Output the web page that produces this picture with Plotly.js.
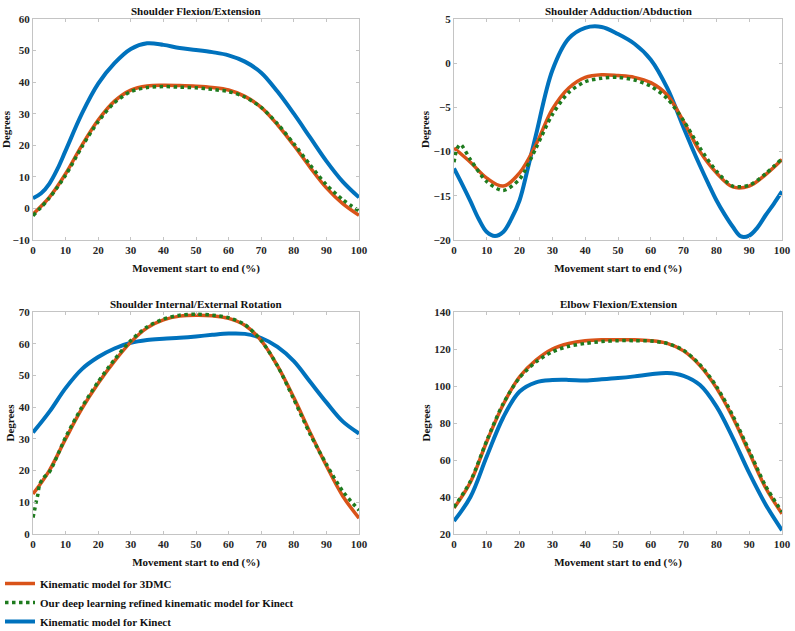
<!DOCTYPE html>
<html>
<head>
<meta charset="utf-8">
<script src="https://cdn.plot.ly/plotly-3.0.1.min.js"></script>
<style>html,body{margin:0;padding:0;background:#fff;}#chart{width:795px;height:631px;}</style>
</head>
<body>
<div id="chart"></div>
<script>
// ---- data ----
const seriesNames = ["Kinematic model for 3DMC", "Our deep learning refined kinematic model for Kinect", "Kinematic model for Kinect"];
const panelTitles = ["Shoulder Flexion/Extension", "Shoulder Adduction/Abduction", "Shoulder Internal/External Rotation", "Elbow Flexion/Extension"];
const x5 = [0,5,10,15,20,25,30,35,40,45,50,55,60,65,70,75,80,85,90,95,100];

// Panel 1: Shoulder Flexion/Extension
const p1Orange = [-1.8,3.5,11,20,28,34,37.5,38.8,39,38.9,38.7,38.3,37.5,35.5,32,26.5,20,13,6.5,1.5,-2.2];
const p1Green  = [-2.3,3.3,10.5,19.5,27.5,33.5,37,38.3,38.6,38.4,38.2,37.7,37,35.3,32,26.8,20.5,13.8,7.5,2.8,-0.8];
const p1BlueX  = [0,2.5,5,7.5,10,15,20,25,30,35,40,45,50,55,60,65,70,75,80,85,90,95,100];
const p1Blue   = [3.2,4.8,7.8,12.5,18.3,30,39.5,46,50.5,52.3,51.8,50.8,50.2,49.5,48.5,46.5,43,37,30,22.5,15,8.5,3.5];

// Panel 2: Shoulder Adduction/Abduction
const p2Orange = [-9.6,-11.2,-13,-13.9,-12.4,-9.2,-5.2,-2.8,-1.6,-1.3,-1.4,-1.6,-2.2,-3.6,-6.6,-10,-12.4,-14,-13.9,-12.6,-10.9];
const p2GreenX = [0,1,2,5,10,15,20,25,30,35,40,45,50,55,60,65,70,75,80,85,90,95,100];
const p2Green  = [-11.2,-9.6,-9.2,-10.9,-13.4,-14.4,-13.1,-9.6,-5.8,-3.3,-2.1,-1.7,-1.6,-1.9,-2.6,-4,-6.5,-9.6,-12.2,-13.9,-13.8,-12.5,-10.8];
const p2BlueX  = [0,2.5,5,7.5,10,12.5,15,17.5,20,22.5,25,30,35,40,45,50,55,60,65,70,72.5,75,77.5,80,82.5,85,87.5,90,92.5,95,97.5,100];
const p2Blue   = [-11.9,-13.7,-15.6,-17.6,-19.1,-19.55,-19.1,-17.6,-15.5,-11.9,-8.1,-0.8,2.8,4,4.1,3.3,2.2,0.4,-2.8,-7.3,-9.5,-11.6,-13.6,-15.5,-17.1,-18.5,-19.6,-19.5,-18.6,-17.2,-15.9,-14.5];

// Panel 3: Shoulder Internal/External Rotation
const p3Orange = [12.6,20,30,39.5,47.5,54.5,60.5,65,67.5,68.7,69,68.8,68,65.8,61,53,43,32,21.5,12,5];
const p3GreenX = [0,0.5,1,1.5,2,3,5,10,15,20,25,30,35,40,45,50,55,60,65,70,75,80,85,90,95,100];
const p3Green  = [5.2,7.6,10.2,12.5,15.5,17.5,19.5,30.5,40,48,55,61,65.3,67.8,69,69.3,69,68.2,66,61,53,42.5,31.5,22,13.5,7.5];
const p3Blue   = [32,38.5,46,52,55.8,58.5,60.3,61.2,61.6,61.9,62.3,62.8,63.2,63.1,61.8,59,54.5,48,41.5,35.5,31.7];

// Panel 4: Elbow Flexion/Extension
const p4Orange = [34,48,70,90,105,114,120,123,124.5,125,125,125,124.5,123,119,111,99,83,64,45,31];
const p4Green  = [34.5,48.5,70.5,90.5,104.5,113,118.5,121.5,123,124,124.5,124.5,124.3,123,119.3,111.5,99.8,84,65,46,32];
const p4Blue   = [27,40,62,83,97,102,103.2,103.3,103,103.6,104.3,105.2,106.3,107,105.5,100.5,89,72,53,36,22];

const yRanges = [[-10,60],[-20,5],[0,70],[20,140]];
const yDticks = [10,5,10,20];

// ---- styling ----
const FONT = "Liberation Serif";
const cOrange = "#D95319", cGreen = "#1E7B1E", cBlue = "#0072BD";

const panels = [
  {ox:x5, o:p1Orange, gx:x5, g:p1Green, bx:p1BlueX, b:p1Blue},
  {ox:x5, o:p2Orange, gx:p2GreenX, g:p2Green, bx:p2BlueX, b:p2Blue},
  {ox:x5, o:p3Orange, gx:p3GreenX, g:p3Green, bx:x5, b:p3Blue},
  {ox:x5, o:p4Orange, gx:x5, g:p4Green, bx:x5, b:p4Blue}
];

const traces = [];
panels.forEach((p, i) => {
  const xa = i === 0 ? "x" : "x" + (i + 1);
  const ya = i === 0 ? "y" : "y" + (i + 1);
  traces.push({x:p.bx, y:p.b, xaxis:xa, yaxis:ya, mode:"lines", name:seriesNames[2], legendrank:3,
    showlegend:i===0, line:{color:cBlue, width:4, shape:"spline", smoothing:1}});
  traces.push({x:p.ox, y:p.o, xaxis:xa, yaxis:ya, mode:"lines", name:seriesNames[0], legendrank:1,
    showlegend:i===0, line:{color:cOrange, width:3.5, shape:"spline", smoothing:1}});
  traces.push({x:p.gx, y:p.g, xaxis:xa, yaxis:ya, mode:"lines", name:seriesNames[1], legendrank:2,
    showlegend:i===0, line:{color:cGreen, width:3.5, dash:"dot", shape:"spline", smoothing:0.8}});
});

const W = 795, H = 631;
const xDom = [[33/W, 359/W],[454/W, 782/W],[33/W, 359/W],[454/W, 782/W]];
const yDom = [[1-240/H, 1-19/H],[1-240/H, 1-19/H],[1-534/H, 1-312/H],[1-534/H, 1-312/H]];

const tickFont = {family:FONT, size:11, color:"#262626", weight:"bold"};
const titleFont = {family:FONT, size:11, color:"#111", weight:"bold"};

const layout = {
  width:W, height:H, margin:{l:0, r:0, t:0, b:0, autoexpand:false},
  paper_bgcolor:"#fff", plot_bgcolor:"#fff",
  showlegend:true,
  legend:{x:0.0, xanchor:"left", y:1-569/H, yanchor:"top", font:{family:FONT, size:11, color:"#111", weight:"bold"},
    traceorder:"normal", itemwidth:30, bgcolor:"rgba(0,0,0,0)", borderwidth:0, tracegroupgap:0},
  annotations:[]
};

for (let i = 0; i < 4; i++) {
  const s = i === 0 ? "" : String(i + 1);
  layout["xaxis" + s] = {
    domain:xDom[i], anchor:"y" + s, range:[0,100], dtick:10, tick0:0, automargin:false,
    showline:true, mirror:"ticks", linecolor:"#c4c4c4", linewidth:1,
    ticks:"inside", ticklen:3, tickcolor:"#c4c4c4",
    showgrid:false, zeroline:false, tickfont:tickFont,
    title:{text:"Movement start to end (%)", font:titleFont, standoff:9}
  };
  layout["yaxis" + s] = {
    domain:yDom[i], anchor:"x" + s, range:yRanges[i], dtick:yDticks[i], automargin:false,
    showline:true, mirror:"ticks", linecolor:"#c4c4c4", linewidth:1,
    ticks:"inside", ticklen:3, tickcolor:"#c4c4c4",
    showgrid:false, zeroline:false, tickfont:tickFont,
    title:{text:"Degrees", font:titleFont, standoff:1}
  };
  layout.annotations.push({
    text:panelTitles[i], xref:"paper", yref:"paper",
    x:(xDom[i][0] + xDom[i][1]) / 2, y:yDom[i][1], yanchor:"bottom", xanchor:"center",
    yshift:0, showarrow:false, font:titleFont
  });
}

Plotly.newPlot("chart", traces, layout, {displayModeBar:false, staticPlot:true});
</script>
</body>
</html>
